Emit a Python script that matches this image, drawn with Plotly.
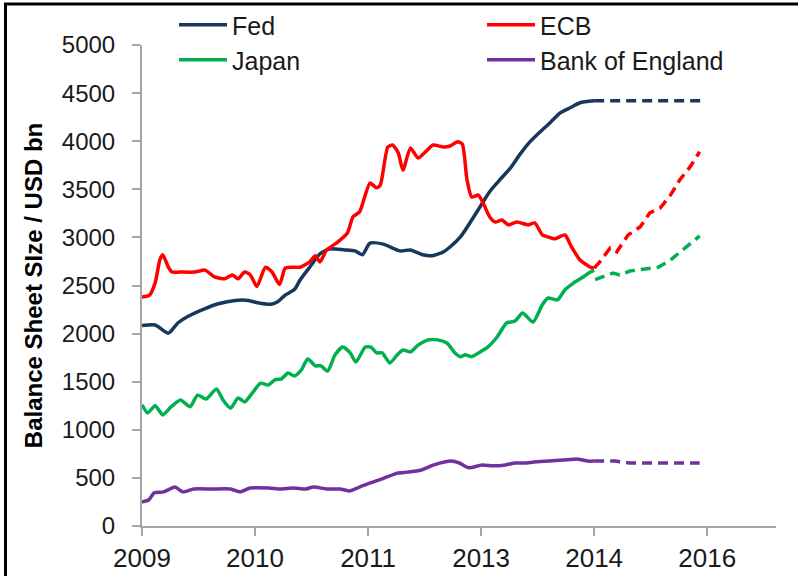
import plotly.graph_objects as go

# ---- data (x = months since Jan 2009) ----
tick_months = [0, 12, 24, 36, 48, 60]
tick_labels = ["2009", "2010", "2011", "2013", "2014", "2016"]
y_ticks = [0, 500, 1000, 1500, 2000, 2500, 3000, 3500, 4000, 4500, 5000]

fed_m = [0.0, 1.4, 2.8, 3.8, 4.9, 6.7, 8.1, 9.9, 11.3, 12.3, 13.7, 14.4, 15.2, 16.2, 16.8,
         17.8, 18.9, 19.9, 21.5, 22.6, 23.4, 24.2, 25.6, 27.4, 28.5, 29.8, 30.8, 32.0, 32.7,
         33.8, 34.8, 35.9, 36.9, 38.0, 39.1, 40.1, 41.2, 42.3, 43.3, 44.4, 45.4, 46.5, 48.0]
fed_v = [2085, 2090, 2005, 2110, 2180, 2260, 2310, 2345, 2345, 2320, 2305, 2330, 2400, 2460, 2560,
         2690, 2830, 2880, 2870, 2860, 2820, 2940, 2930, 2860, 2870, 2820, 2810, 2850, 2900,
         3005, 3150, 3320, 3475, 3600, 3720, 3860, 3995, 4100, 4190, 4295, 4345, 4400, 4420]
fed_proj_m = [48.0, 53.0, 59.5]
fed_proj_v = [4420, 4420, 4420]

ecb_m = [0.0, 0.8, 1.4, 1.9, 2.2, 2.8, 3.2, 4.0, 5.6, 6.7, 7.7, 8.8, 9.6, 10.2, 10.9, 11.5,
         12.2, 13.1, 13.8, 14.6, 15.2, 15.9, 16.8, 17.8, 18.4, 18.9, 19.6, 20.7, 21.8, 22.4,
         23.1, 24.2, 24.9, 25.3, 26.1, 26.6, 27.2, 27.7, 28.5, 29.3, 30.3, 30.9, 32.0, 32.7,
         33.5, 34.0, 34.5, 35.0, 35.7, 36.2, 36.9, 37.5, 38.2, 38.9, 39.8, 41.0, 41.7, 42.5,
         43.1, 43.8, 44.9, 45.6, 46.5, 47.6, 48.0]
ecb_v = [2380, 2400, 2530, 2770, 2820, 2690, 2640, 2640, 2640, 2660, 2590, 2570, 2610, 2570, 2640, 2610,
         2490, 2690, 2640, 2510, 2680, 2690, 2690, 2745, 2810, 2745, 2870, 2945, 3045, 3215,
         3265, 3565, 3515, 3545, 3940, 3960, 3880, 3700, 3930, 3825, 3910, 3960, 3940, 3950,
         3995, 3970, 3600, 3420, 3440, 3360, 3215, 3160, 3180, 3130, 3160, 3130, 3150, 3025,
         3005, 2985, 3025, 2900, 2765, 2690, 2680]
ecb_proj_m = [48.0, 48.6, 49.7, 50.4, 51.6, 52.9, 53.9, 55.0, 56.1, 57.1, 58.2, 59.2]
ecb_proj_v = [2680, 2745, 2890, 2850, 3025, 3110, 3255, 3305, 3440, 3600, 3735, 3890]

jpn_m = [0.0, 0.6, 1.4, 2.2, 3.1, 4.1, 5.1, 5.9, 6.8, 7.9, 8.6, 9.4, 10.2, 10.9, 11.8, 12.6,
         13.4, 14.1, 14.8, 15.5, 16.2, 16.9, 17.6, 18.4, 19.0, 19.7, 20.5, 21.3, 22.1, 22.7,
         23.7, 24.3, 24.9, 25.5, 26.3, 27.1, 27.7, 28.5, 29.3, 30.4, 31.4, 32.4, 33.2, 33.8,
         34.3, 35.0, 35.9, 36.7, 37.7, 38.7, 39.6, 40.4, 41.5, 42.5, 43.1, 44.1, 44.9, 45.8,
         46.7, 47.6, 48.0]
jpn_v = [1260, 1175, 1250, 1155, 1240, 1310, 1240, 1360, 1320, 1425, 1310, 1225, 1330, 1290, 1395, 1485,
         1465, 1520, 1530, 1590, 1560, 1620, 1735, 1665, 1665, 1610, 1780, 1860, 1800, 1705,
         1860, 1860, 1800, 1800, 1695, 1780, 1830, 1810, 1880, 1935, 1935, 1900, 1800, 1760,
         1780, 1760, 1810, 1860, 1965, 2110, 2130, 2215, 2120, 2300, 2370, 2350, 2455, 2525,
         2580, 2640, 2660]
jpn_proj_m = [48.1, 48.9, 50.0, 50.7, 51.8, 53.2, 54.8, 56.1, 57.4, 59.2]
jpn_proj_v = [2560, 2590, 2630, 2610, 2650, 2670, 2690, 2765, 2870, 3015]

boe_m = [0.0, 0.7, 1.3, 2.3, 3.5, 4.3, 5.5, 7.4, 9.4, 10.4, 11.5, 13.5, 14.7, 16.1, 17.4, 18.2,
         19.6, 21.0, 22.0, 23.1, 24.3, 25.5, 27.1, 28.2, 29.6, 31.0, 32.8, 33.7, 34.7, 36.1,
         37.3, 38.6, 39.6, 40.8, 41.6, 43.2, 44.7, 46.3, 47.3, 48.0]
boe_v = [250, 270, 345, 355, 405, 355, 385, 385, 385, 355, 395, 395, 385, 395, 385, 405,
         385, 385, 365, 405, 450, 490, 550, 560, 580, 635, 675, 655, 605, 635,
         625, 635, 655, 655, 665, 675, 685, 695, 675, 675]
boe_proj_m = [48.0, 50.2, 51.8, 54.6, 59.2]
boe_proj_v = [675, 675, 655, 655, 655]

series = [
    ("Fed", "#17375E", fed_m, fed_v, fed_proj_m, fed_proj_v, "legend"),
    ("ECB", "#FF0000", ecb_m, ecb_v, ecb_proj_m, ecb_proj_v, "legend2"),
    ("Japan", "#00B050", jpn_m, jpn_v, jpn_proj_m, jpn_proj_v, "legend3"),
    ("Bank of England", "#7030A0", boe_m, boe_v, boe_proj_m, boe_proj_v, "legend4"),
]

FONT = "Liberation Sans, Arial, sans-serif"
fig = go.Figure()
for name, color, m, v, pm, pv, lg in series:
    fig.add_trace(go.Scatter(x=m, y=v, mode="lines", name=name, legend=lg,
                             line=dict(color=color, width=3.5, shape="spline", smoothing=0.6)))
    fig.add_trace(go.Scatter(x=pm, y=pv, mode="lines", name=name + " (proj.)", legend=lg,
                             showlegend=False,
                             line=dict(color=color, width=3.5, dash="10px,6px")))

W, H = 798, 576
L, R, T, B = 142, 22, 0, 50
PLOT_TOP = 45
pw, ph = W - L - R, H - T - B

def px(xp):
    return (xp - L) / pw

def py(yp):
    return (H - B - yp) / ph

def leg(xp, yp):
    return dict(x=px(xp), y=py(yp), xanchor="left", yanchor="middle",
                orientation="v", bgcolor="rgba(0,0,0,0)", itemwidth=48,
                font=dict(family=FONT, size=25, color="#1a1a1a"))

fig.update_layout(
    width=W, height=H,
    margin=dict(l=L, r=R, t=T, b=B, autoexpand=False),
    paper_bgcolor="white", plot_bgcolor="white",
    font=dict(family=FONT, color="#1a1a1a"),
    showlegend=True,
    legend=leg(174, 25),
    legend2=leg(482, 25),
    legend3=leg(174, 60),
    legend4=leg(482, 60),
    xaxis=dict(range=[0, pw / 9.42], tickmode="array", tickvals=tick_months, ticktext=tick_labels,
               showgrid=False, zeroline=False, showline=True, linecolor="#A6A6A6", linewidth=2,
               ticks="outside", ticklen=8, tickwidth=1.5, tickcolor="#A6A6A6", automargin=False,
               tickfont=dict(family=FONT, size=26, color="#1a1a1a")),
    yaxis=dict(range=[0, 5000], tickmode="array", tickvals=y_ticks,
               domain=[0, (H - B - PLOT_TOP) / ph], automargin=False,
               showgrid=False, zeroline=False, showline=True, linecolor="#A6A6A6", linewidth=2,
               ticks="outside", ticklen=8, tickwidth=1.5, tickcolor="#A6A6A6",
               ticklabelstandoff=12,
               tickfont=dict(family=FONT, size=24, color="#1a1a1a"),
               title=dict(text="Balance Sheet SIze / USD bn", standoff=12,
                          font=dict(family=FONT, size=24, color="#000000", weight="bold"))),
    shapes=[
        dict(type="line", xref="paper", yref="paper", x0=px(5.5), x1=px(5.5), y0=py(3), y1=py(H + 2),
             line=dict(color="black", width=3)),
        dict(type="line", xref="paper", yref="paper", x0=px(4), x1=px(W + 2), y0=py(4), y1=py(4),
             line=dict(color="black", width=3)),
    ],
)

fig.write_html("out.html", config={"displayModeBar": False},
               post_script="document.body.style.margin='0';")
